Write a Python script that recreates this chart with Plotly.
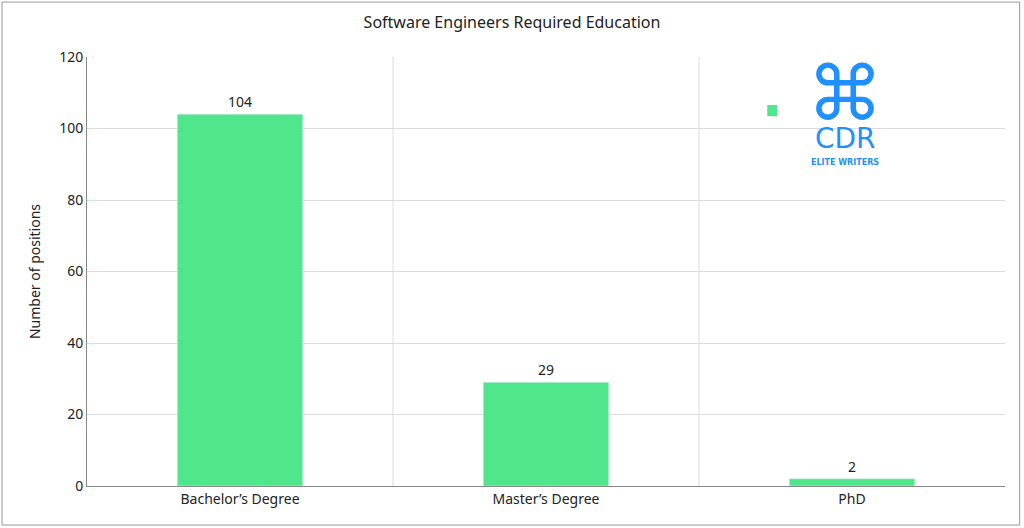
import plotly.graph_objects as go

categories = ["Bachelor’s Degree", "Master’s Degree", "PhD"]
positions = [104, 29, 2]

green = "#50e68c"
blue = "#1e90ff"

fig = go.Figure(go.Bar(
    x=categories, y=positions, text=positions, textposition="outside",
    textfont=dict(size=14, color="#222"), marker_color=green, width=0.41,
    cliponaxis=False, showlegend=False,
))

shapes = [
    dict(type="line", xref="x", yref="paper", x0=i + 0.5, x1=i + 0.5, y0=0, y1=1,
         line=dict(color="#dcdcdc", width=1), layer="below")
    for i in range(len(categories) - 1)
]
shapes.append(dict(type="rect", xref="paper", yref="paper", x0=-0.0926, x1=1.016,
                   y0=-0.091, y1=1.128, line=dict(color="#999", width=1),
                   fillcolor="rgba(0,0,0,0)"))
shapes.append(dict(type="rect", xref="paper", yref="paper", x0=0.741, x1=0.752,
                   y0=0.862, y1=0.888, line=dict(width=0), fillcolor=green))

logo = dict(xref="paper", yref="paper", x=0.826, xanchor="center", showarrow=False,
            borderpad=0)
annotations = [
    dict(logo, y=0.81, yanchor="bottom", text="⌘",
         font=dict(size=76, color=blue, family="DejaVu Sans")),
    dict(logo, y=0.85, yanchor="top", text="CDR",
         font=dict(size=28, color=blue, family="DejaVu Sans")),
    dict(logo, y=0.768, yanchor="top", text="<b>ELITE WRITERS</b>",
         font=dict(size=8, color=blue, family="DejaVu Sans")),
]

fig.update_layout(
    width=1024, height=528,
    margin=dict(l=87, r=19, t=57, b=42, autoexpand=False),
    plot_bgcolor="white", paper_bgcolor="white",
    font=dict(family="Noto Sans", size=14, color="#222"),
    title=dict(text="Software Engineers Required Education", x=0.5, y=0.957,
               xanchor="center", yanchor="middle", font=dict(size=16, color="#222")),
    xaxis=dict(showline=True, linecolor="#888", ticks="", showgrid=False,
               tickfont=dict(size=14)),
    yaxis=dict(range=[0, 120], dtick=20, showgrid=True, gridcolor="#dcdcdc",
               showline=True, linecolor="#888", zeroline=False,
               title=dict(text="Number of positions", font=dict(size=14)),
               tickfont=dict(size=14)),
    shapes=shapes, annotations=annotations, bargap=0.59,
)

fig.write_html("out.html", config={"displayModeBar": False},
               post_script="document.body.style.margin='0';")
